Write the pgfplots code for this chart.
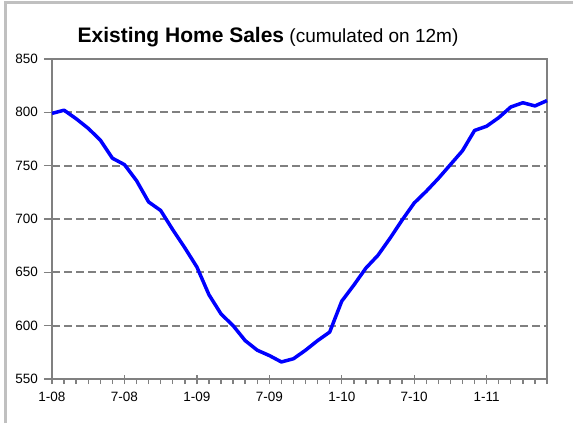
\documentclass[border=0pt]{standalone}
\usepackage{fontspec}
\setmainfont{Liberation Sans}
\usepackage{pgfplots}
\pgfplotsset{compat=1.18}
\definecolor{axgray}{RGB}{128,128,128}
\definecolor{framegray}{RGB}{192,192,192}
\definecolor{lineblue}{RGB}{0,0,255}
\begin{document}
\begin{tikzpicture}[x=1bp,y=1bp]
\useasboundingbox (0,0) rectangle (573,423);
\draw[framegray, line width=3bp] (5.5,0) -- (5.5,420.5) -- (573,420.5);
\node[anchor=base, inner sep=0pt] at (268,381) {{\fontsize{21bp}{25bp}\selectfont\bfseries Existing Home Sales}{\fontsize{19bp}{23bp}\selectfont\ (cumulated on 12m)}};
\begin{axis}[
  at={(52bp,44bp)}, anchor=south west,
  scale only axis, width=495bp, height=320bp,
  xmin=0, xmax=41, ymin=550, ymax=850,
  clip=false,
  axis line style={axgray, line width=1.6bp},
  ymajorgrids,
  y grid style={draw=axgray, line width=1.8bp, dash pattern=on 8bp off 4bp},
  xtick={0,6,12,18,24,30,36},
  xticklabels={1-08,7-08,1-09,7-09,1-10,7-10,1-11},
  minor xtick={0,1,...,41},
  ytick={550,600,650,700,750,800,850},
  tick align=outside,
  major tick length=8bp, minor tick length=5bp,
  tick style={axgray, line width=1.4bp},
  major x tick style={yshift=4bp},
  xtick pos=bottom, ytick pos=left,
  ticklabel style={font=\fontsize{13.5bp}{16bp}\selectfont},
  yticklabel style={xshift=-2.5bp},
  xticklabel style={yshift=-1.5bp},
  /pgf/number format/assume math mode=true,
]
\addplot[lineblue, line width=3.5bp, line join=round] table {
x y
0 799
1 802
2 794
3 785
4 774
5 757
6 751
7 736
8 716
9 708
10 690
11 673
12 655
13 629
14 611
15 600
16 586
17 577
18 572
19 566
20 569
21 577
22 586
23 594
24 623
25 638
26 654
27 666
28 682
29 699
30 715
31 726
32 738
33 751
34 764
35 783
36 787
37 795
38 805
39 809
40 806
41 811
};
\end{axis}
\end{tikzpicture}
\end{document}
